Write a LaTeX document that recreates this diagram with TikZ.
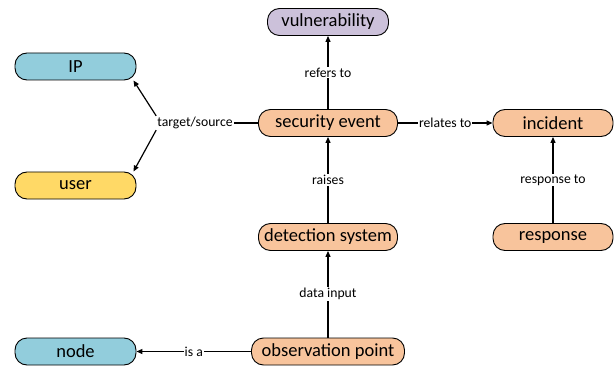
\documentclass[tikz,border=0pt]{standalone}
\usepackage{fontspec}
\setmainfont{Carlito}
\usetikzlibrary{arrows.meta}
\definecolor{cblue}{HTML}{92CDDC}
\definecolor{cyellow}{HTML}{FFD966}
\definecolor{cpurple}{HTML}{CCC1DA}
\definecolor{corange}{HTML}{F8C49C}
\tikzset{
	box/.style={draw, rounded corners=12pt, minimum height=27pt, inner sep=0pt, line width=0.9pt, font=\fontsize{18.5}{20}\selectfont},
	lbl/.style={fill=white, inner sep=1pt, font=\fontsize{13.7}{15}\selectfont},
	con/.style={line width=1.2pt, -{Triangle[length=6pt,width=5pt]}}
}
\begin{document}
\begin{tikzpicture}[x=1pt, y=-1pt, line join=round]
			\useasboundingbox (0,0) rectangle (615,366);
			% entities
			\node[box, fill=cpurple, minimum width=121pt] (vuln) at (328,22) {vulnerability};
			\node[box, fill=cblue, minimum width=121pt] (ip) at (75.5,66.5) {IP};
			\node[box, fill=cyellow, minimum width=121pt] (user) at (75.5,185.5) {user};
			\node[box, fill=corange, minimum width=139pt] (secev) at (328,123) {security event};
			\node[box, fill=corange, minimum width=120pt] (incident) at (553,123) {incident};
			\node[box, fill=corange, minimum width=139pt] (detsys) at (328,237) {detection system};
			\node[box, fill=corange, minimum width=120pt] (resp) at (553,237) {response};
			\node[box, fill=cblue, minimum width=121pt] (nodebox) at (75.5,351.5) {node};
			\node[box, fill=corange, minimum width=153pt] (obspt) at (328,351.5) {observation point};
			
			% relations
			\draw[con] (secev) -- node[lbl] {refers to} (vuln);
			\node[lbl] (ts) at (195,123) {target/source};
			\draw[line width=1.2pt] (secev) -- (ts);
			\draw[con] (ts.north west) -- ([xshift=-3pt]ip.south east);
			\draw[con] (ts.south west) -- ([xshift=-3pt]user.north east);
			\draw[con] (secev) -- node[lbl] {relates to} (incident);
			\draw[con] (detsys) -- node[lbl] {raises} (secev);
			\draw[con] (resp) -- node[lbl] {response to} (incident);
			\draw[con] (obspt) -- node[lbl] {data input} (detsys);
			\draw[con] (obspt) -- node[lbl] {is a} (nodebox);
		\end{tikzpicture}
\end{document}
